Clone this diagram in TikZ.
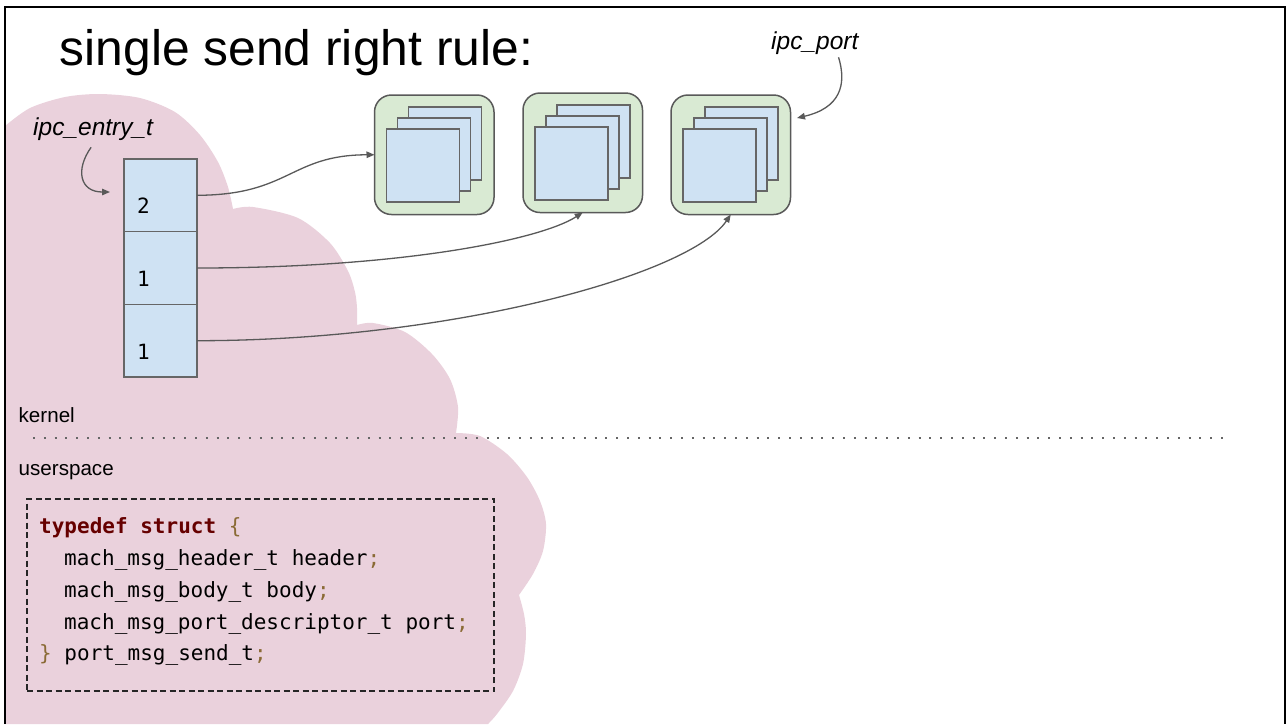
\documentclass[tikz,border=0pt]{standalone}
\usepackage{fontspec}
\setmainfont{Liberation Sans}
\newfontfamily\codefont{DejaVu Sans Mono}
\usetikzlibrary{arrows.meta}

\definecolor{cloudpink}{HTML}{EAD1DC}
\definecolor{portgreen}{HTML}{D9EAD3}
\definecolor{sheetblue}{HTML}{CFE2F3}
\definecolor{edgegray}{HTML}{666666}
\definecolor{linkgray}{HTML}{595959}
\definecolor{kwred}{HTML}{660000}
\definecolor{punct}{HTML}{8A6A35}

\begin{document}
\begin{tikzpicture}[x=1pt,y=-1pt,
  cell/.style={draw=edgegray, fill=sheetblue, line width=1.5pt,
    minimum width=73pt, minimum height=72.7pt, inner sep=0pt, outer sep=0pt},
  portbox/.style={draw=linkgray, fill=portgreen, line width=1.5pt,
    rounded corners=17pt, minimum width=119.5pt, minimum height=119.5pt,
    inner sep=0pt, outer sep=0pt},
  sheet/.style={draw=edgegray, fill=sheetblue, line width=1.5pt,
    minimum size=73pt, inner sep=0pt, outer sep=0pt},
  link/.style={draw=linkgray, line width=1.3pt,
    -{Triangle[length=8pt,width=6.5pt]}},
  digit/.style={font=\codefont\fontsize{21}{25}\selectfont,
    anchor=base west, inner sep=0pt},
  code/.style={font=\codefont\fontsize{21}{25}\selectfont,
    anchor=base west, inner sep=0pt},
  lbl/.style={font=\fontsize{20.6}{24}\selectfont, anchor=base west, inner sep=0pt},
  tag/.style={font=\itshape\fontsize{24.5}{28}\selectfont, anchor=base west, inner sep=0pt},
  sepline/.style={draw=edgegray, line width=2pt, dash pattern=on 2pt off 8.8pt},
  codeframe/.style={draw=black!85, line width=1.3pt, dash pattern=on 6pt off 3.5pt,
    minimum width=467pt, minimum height=192pt, inner sep=0pt}
]
\useasboundingbox (0,0) rectangle (1286,724);

% kernel cloud
\fill[cloudpink] (5,126)
  -- plot[smooth] coordinates {(5,126) (30,108) (65,97) (100,94) (140,98)
       (175,112) (200,135) (218,162) (228,187) (233,209)}
  -- plot[smooth] coordinates {(233,209) (253,207) (298,218) (330,243)
       (348,271) (355,292) (357,308) (357,325)}
  -- plot[smooth] coordinates {(357,325) (373,323) (405,332) (432,354)
       (450,379) (458,407) (456,433)}
  -- plot[smooth] coordinates {(456,433) (480,436) (507,454) (527,477)
       (540,501) (546,524) (543,551) (533,574) (519,595)}
  -- plot[smooth] coordinates {(519,595) (524,614) (526,634) (523,664)
       (513,691) (497,714) (488,724)}
  -- (5,724) -- cycle;

% slide frame
\draw[line width=2.5pt] (5,724) -- (5,7) -- (1285,7) -- (1285,724);

% title
\node[font=\fontsize{49.8}{58}\selectfont, anchor=base west, inner sep=0pt]
  (title) at (59.5,65) {single send right rule:};

% ipc_entry_t table
\node[cell] (e1) at (160.5,195.3) {};
\node[cell] (e2) at (160.5,268) {};
\node[cell] (e3) at (160.5,340.7) {};
\node[digit] (d1) at (137,213) {2};
\node[digit] (d2) at (137,286) {1};
\node[digit] (d3) at (137,359) {1};

% ipc_port objects, each a stack of three sheets
\foreach \L/\T/\n in {374.5/95/1, 523/93/2, 671/95/3}{
  \node[portbox] (p\n) at (\L+59.75,\T+59.75) {};
  \node[sheet] (p\n back) at (\L+70.5,\T+48.5) {};
  \node[sheet] (p\n mid) at (\L+59.5,\T+59.5) {};
  \node[sheet] (p\n front) at (\L+48.5,\T+70.5) {};
}

% references from entries to ports
\draw[link] (e1.east) .. controls (290,195) and (290,155) .. (p1.west);
\draw[link] (e2.east) .. controls (400,268) and (540,240) .. (p2.south);
\draw[link] (e3.east) .. controls (450,340.7) and (690,275) .. (p3.south);

% type labels
\node[tag] (entrylbl) at (33,135) {ipc\_entry\_t};
\coordinate (entrytip) at (110,192);
\draw[link] ([xshift=-2pt,yshift=-7pt]entrylbl.south)
  .. controls (75,170) and (80,192) .. (entrytip);

\node[tag] (portlbl) at (771,49) {ipc\_port};
\coordinate (porttip) at (797,118);
\draw[link] ([xshift=-20pt,yshift=-3pt]portlbl.south east)
  .. controls (847,85) and (840,108) .. (porttip);

% kernel / userspace boundary
\node[lbl] (kern) at (18.5,422) {kernel};
\coordinate (sepL) at (33,438);
\coordinate (sepR) at (1228,438);
\draw[sepline] (sepL) -- (sepR);
\node[lbl] (user) at (18.5,475) {userspace};

% message struct
\node[codeframe] (codebox) at (260.5,595) {};
\node[code] (c1) at (39,533)
  {\textcolor{kwred}{\bfseries typedef struct} \textcolor{punct}{\{}};
\node[code] (c2) at (64,565) {mach\_msg\_header\_t header\textcolor{punct}{;}};
\node[code] (c3) at (64,597) {mach\_msg\_body\_t body\textcolor{punct}{;}};
\node[code] (c4) at (64,629) {mach\_msg\_port\_descriptor\_t port\textcolor{punct}{;}};
\node[code] (c5) at (39,660)
  {\textcolor{punct}{\}} port\_msg\_send\_t\textcolor{punct}{;}};
\end{tikzpicture}
\end{document}
